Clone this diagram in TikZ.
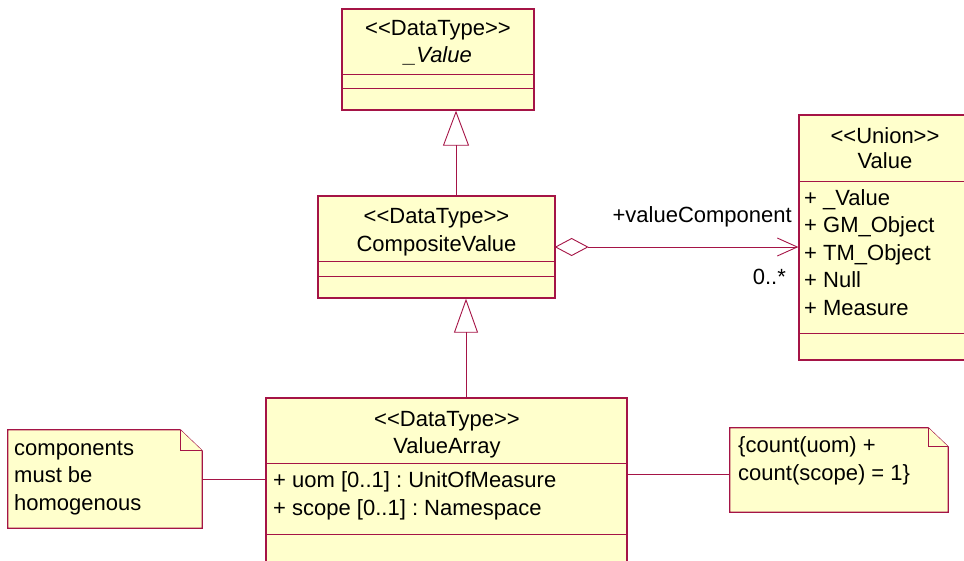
\documentclass[tikz,border=0pt]{standalone}
\usepackage{fontspec}
\setmainfont{Liberation Sans}
\usetikzlibrary{arrows.meta}

\definecolor{umlred}{RGB}{165,20,70}
\definecolor{umlfill}{RGB}{255,255,204}
\newcommand\umlfont{\fontsize{22}{27.5}\selectfont\frenchspacing}
\newcommand\stereo[1]{<\kern0pt<#1>\kern0pt>}

\begin{document}
\begin{tikzpicture}[x=1pt, y=-1pt, >=latex,
    classbox/.style={draw=umlred, fill=umlfill, line width=1.3pt, inner sep=0pt},
    notearea/.style={inner sep=0pt},
    notepath/.style={draw=umlred, fill=umlfill, line width=1.2pt},
    sepline/.style={draw=umlred, line width=1pt},
    link/.style={draw=umlred, line width=0.9pt},
    txt/.style={font=\umlfont, inner sep=0pt, anchor=base},
    attr/.style={txt, anchor=base west, align=left}]

    % ==== FRAME ====
    \clip (0,0) rectangle (964,560);

    % ==== _VALUE ====
    \node[classbox, minimum width=192pt, minimum height=101pt] (absval) at (438,59.5) {};
    \draw[sepline] (342,74) -- (534,74) (342,88) -- (534,88);
    \node[txt] (absvalst) at (438,35) {\stereo{DataType}};
    \node[txt] (absvalnm) at (438,62) {\textit{\_Value}};

    % ==== COMPOSITEVALUE ====
    \node[classbox, minimum width=237pt, minimum height=102pt] (cval) at (436.5,247) {};
    \draw[sepline] (318,261) -- (555,261) (318,276) -- (555,276);
    \node[txt] (cvalst) at (436.5,223) {\stereo{DataType}};
    \node[txt] (cvalnm) at (436.5,251) {CompositeValue};

    % ==== VALUE (UNION) ====
    % multi-line nodes sit on the baseline of their last line
    \node[classbox, minimum width=172pt, minimum height=245pt] (uval) at (885,237.5) {};
    \draw[sepline] (799,181) -- (971,181) (799,333) -- (971,333);
    \node[txt] (uvalst) at (885,143) {\stereo{Union}};
    \node[txt] (uvalnm) at (885,168) {Value};
    \node[attr] (uvalat) at (804,315)
        {+ \_Value\\+ GM\_Object\\+ TM\_Object\\+ Null\\+ Measure};

    % ==== VALUEARRAY ====
    \node[classbox, minimum width=361pt, minimum height=182pt] (varr) at (446.5,489) {};
    \draw[sepline] (266,463) -- (627,463) (266,534) -- (627,534);
    \node[txt] (varrst) at (447,426) {\stereo{DataType}};
    \node[txt] (varrnm) at (447,453) {ValueArray};
    \node[attr] (varrat) at (273,515)
        {+ uom [0..1] : UnitOfMeasure\\+ scope [0..1] : Namespace};

    % ==== NOTES ====
    \node[notearea, minimum width=194pt, minimum height=98pt] (hnote) at (105,479) {};
    \draw[notepath] (hnote.north west) -- ([xshift=-22pt]hnote.north east)
        -- ([yshift=-21pt]hnote.north east) -- (hnote.south east)
        -- (hnote.south west) -- cycle;
    \draw[notepath] ([xshift=-22pt]hnote.north east) |- ([yshift=-21pt]hnote.north east);
    \node[attr] (hnotetx) at (14,510) {components\\must be\\homogenous};

    \node[notearea, minimum width=218pt, minimum height=84pt] (cnote) at (839,470) {};
    \draw[notepath] (cnote.north west) -- ([xshift=-20pt]cnote.north east)
        -- ([yshift=-19pt]cnote.north east) -- (cnote.south east)
        -- (cnote.south west) -- cycle;
    \draw[notepath] ([xshift=-20pt]cnote.north east) |- ([yshift=-19pt]cnote.north east);
    \node[attr] (cnotetx) at (738,480) {\{count(uom) +\\count(scope) = 1\}};
    \coordinate (cnoteend) at ([yshift=-4pt]cnote.west);

    % ==== GENERALIZATIONS ====
    \draw[link, -{Triangle[open, length=35pt, width=26pt]}]
        ([xshift=19.5pt]cval.north) -- ([xshift=19.5pt]cval.north |- absval.south);
    \draw[link, -{Triangle[open, length=34pt, width=24pt]}]
        ([xshift=19.5pt]varr.north) -- ([xshift=19.5pt]varr.north |- cval.south);

    % ==== AGGREGATION ====
    \draw[link, fill=white] (cval.east) -- ++(16,-8.5) coordinate (diamtop)
        -- ++(16,8.5) coordinate (diamtip) -- ++(-16,8.5) -- cycle;
    \draw[link, -{Straight Barb[length=20pt, width=18pt]}] (diamtip) -- (uval.west |- diamtip);
    \node[txt, anchor=base east] (rolename) at (792,222) {+valueComponent};
    \node[txt, anchor=base east] (multname) at (786,284) {0..*};

    % ==== NOTE LINKS ====
    \draw[link] (hnote.east) -- (varr.west |- hnote.east);
    \draw[link] (cnoteend) -- (varr.east |- cnoteend);

\end{tikzpicture}
\end{document}
